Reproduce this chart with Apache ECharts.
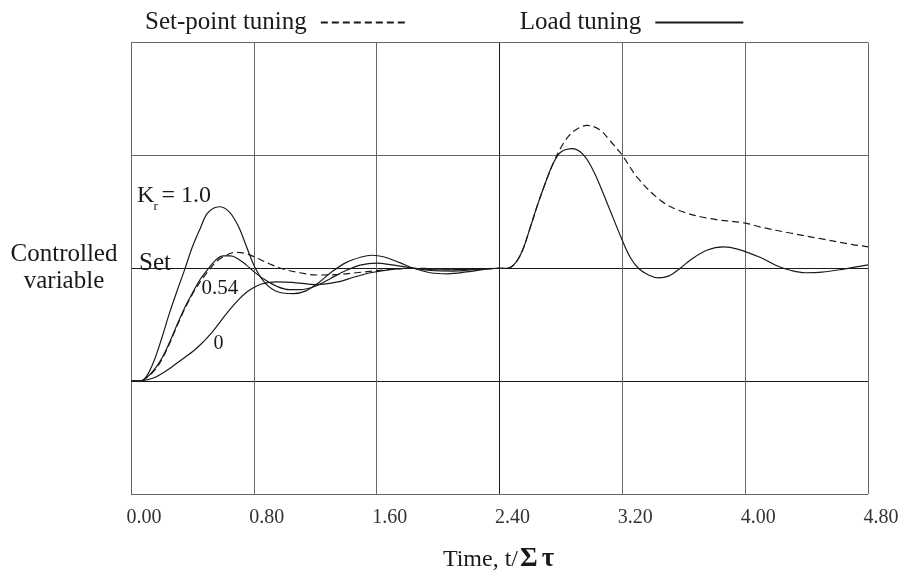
<!DOCTYPE html>
<html>
<head>
<meta charset="utf-8">
<script src="https://cdn.jsdelivr.net/npm/echarts@6/dist/echarts.min.js"></script>
<style>
html,body{margin:0;padding:0;background:#fff;}
#chart{width:899px;height:573px;}
</style>
</head>
<body>
<div id="chart"></div>
<script>
// ---- data ----
const xTicks = [0, 0.8, 1.6, 2.4, 3.2, 4.0, 4.8];
const xTickLabels = ['0.00', '0.80', '1.60', '2.40', '3.20', '4.00', '4.80'];

// Set-point tuning (dashed)
const tSet = [0, 0.06, 0.1, 0.15, 0.2, 0.25, 0.3, 0.35, 0.4, 0.45, 0.5, 0.55, 0.6, 0.68, 0.75, 0.82, 0.9, 1.0, 1.1, 1.21, 1.35, 1.5, 1.65, 1.84, 2.0, 2.2, 2.4,
  2.45, 2.5, 2.55, 2.6, 2.65, 2.7, 2.75, 2.8, 2.85, 2.9, 2.97, 3.05, 3.12, 3.2, 3.3, 3.45, 3.58, 3.77, 4.0, 4.1, 4.3, 4.5, 4.7, 4.8];
const vSet = [0, 0, 0.03, 0.09, 0.19, 0.33, 0.49, 0.64, 0.77, 0.88, 0.97, 1.05, 1.1, 1.14, 1.13, 1.09, 1.04, 0.99, 0.96, 0.94, 0.945, 0.965, 0.985, 1.0, 0.995, 0.99, 1.0,
  1.0, 1.04, 1.16, 1.36, 1.57, 1.76, 1.93, 2.07, 2.17, 2.23, 2.265, 2.23, 2.13, 2.0, 1.8, 1.6, 1.507, 1.44, 1.4, 1.365, 1.31, 1.26, 1.21, 1.19];

// Load tuning, Kr = 1.0 (solid)
const tKr1 = [0, 0.06, 0.1, 0.15, 0.2, 0.25, 0.3, 0.35, 0.4, 0.45, 0.5, 0.575, 0.64, 0.7, 0.75, 0.81, 0.88, 0.96, 1.057, 1.14, 1.22, 1.3, 1.4, 1.5, 1.57, 1.65, 1.75, 1.84, 1.95, 2.06, 2.2, 2.3, 2.4];
const vKr1 = [0, 0, 0.04, 0.18, 0.38, 0.6, 0.8, 0.99, 1.19, 1.35, 1.49, 1.545, 1.5, 1.37, 1.2, 1.0, 0.86, 0.79, 0.776, 0.8, 0.87, 0.96, 1.05, 1.1, 1.115, 1.1, 1.05, 1.0, 0.96, 0.95, 0.97, 0.99, 1.0];

// Load tuning, Kr = 0.54 (solid)
const tKr054 = [0, 0.06, 0.1, 0.15, 0.2, 0.25, 0.3, 0.35, 0.4, 0.45, 0.5, 0.55, 0.6, 0.65, 0.7, 0.75, 0.8, 0.87, 0.95, 1.03, 1.1, 1.2, 1.3, 1.4, 1.5, 1.6, 1.7, 1.84, 1.95, 2.1, 2.25, 2.4];
const vKr054 = [0, 0, 0.03, 0.1, 0.2, 0.34, 0.5, 0.65, 0.78, 0.9, 0.99, 1.07, 1.11, 1.11, 1.08, 1.03, 0.97, 0.9, 0.84, 0.81, 0.81, 0.84, 0.91, 0.98, 1.03, 1.045, 1.03, 1.0, 0.98, 0.975, 0.99, 1.0];

// Load tuning, Kr = 0 (solid)
const tKr0 = [0, 0.06, 0.1, 0.15, 0.2, 0.25, 0.3, 0.35, 0.4, 0.45, 0.5, 0.55, 0.6, 0.65, 0.7, 0.75, 0.8, 0.85, 0.9, 0.95, 1.05, 1.21, 1.35, 1.45, 1.56, 1.7, 1.84, 2.0, 2.2, 2.4];
const vKr0 = [0, 0, 0.01, 0.03, 0.065, 0.11, 0.16, 0.21, 0.26, 0.32, 0.39, 0.47, 0.56, 0.645, 0.72, 0.785, 0.83, 0.86, 0.875, 0.88, 0.875, 0.855, 0.88, 0.92, 0.96, 0.99, 1.0, 0.985, 0.99, 1.0];

// Load tuning, response to load change (solid, all Kr)
const tLoad = [2.4, 2.45, 2.5, 2.55, 2.6, 2.65, 2.7, 2.75, 2.8, 2.877, 2.95, 3.02, 3.1, 3.196, 3.25, 3.305, 3.37, 3.436, 3.5, 3.577, 3.65, 3.75, 3.859, 3.95, 4.1, 4.21, 4.3, 4.39, 4.5, 4.65, 4.8];
const vLoad = [1.0, 1.0, 1.04, 1.16, 1.36, 1.57, 1.76, 1.93, 2.03, 2.06, 2.0, 1.84, 1.58, 1.26, 1.1, 1.0, 0.94, 0.915, 0.93, 1.0, 1.08, 1.16, 1.19, 1.17, 1.095, 1.02, 0.98, 0.96, 0.965, 0.995, 1.03];

const pair = (t, v) => t.map((x, i) => [x, v[i]]);
const FONT = 'Liberation Serif';
const INK = '#1a1a1a';

const chart = echarts.init(document.getElementById('chart'));

function solid(name, t, v) {
  return {
    name: name, type: 'line', data: pair(t, v), symbol: 'none', showSymbol: false,
    smooth: 0.35, silent: true, color: INK,
    lineStyle: { color: INK, width: 1.2, type: 'solid' }
  };
}

const option = {
  animation: false,
  backgroundColor: '#fff',
  color: [INK],
  grid: { left: 131, right: 31, top: 42.5, bottom: 79, containLabel: false, outerBoundsMode: 'none' },
  legend: {
    data: ['Set-point tuning', 'Load tuning'],
    left: 140, top: 5,
    align: 'right',
    itemWidth: 88, itemHeight: 14, itemGap: 110,
    selectedMode: false,
    itemStyle: { opacity: 0 },
    textStyle: { fontFamily: FONT, fontSize: 25, color: INK, padding: [0, 9, 6, 0] }
  },
  xAxis: {
    type: 'value', min: 0, max: 4.8, interval: 0.8,
    axisLine: { show: false }, axisTick: { show: false },
    axisLabel: {
      fontFamily: FONT, fontSize: 20, color: '#333', margin: 14, padding: [0, 0, 0, 26],
      formatter: v => { const i = xTicks.findIndex(x => Math.abs(x - v) < 1e-6); return i >= 0 ? xTickLabels[i] : ''; }
    },
    splitLine: { show: true, showMinLine: true, showMaxLine: true,
      lineStyle: { width: 1, color: ['#666', '#666', '#666', '#1a1a1a', '#666', '#666', '#666'] } },
    name: '{n|Time, t/}{b|Σ}{b|τ}',
    nameLocation: 'middle', nameGap: 52,
    nameTextStyle: {
      rich: {
        n: { fontFamily: FONT, fontSize: 24, color: INK },
        b: { fontFamily: FONT, fontSize: 27, fontWeight: 'bold', color: INK, padding: [0, 2, 0, 2] }
      }
    }
  },
  yAxis: {
    type: 'value', min: -1, max: 3, interval: 1,
    axisLine: { show: false }, axisTick: { show: false }, axisLabel: { show: false },
    splitLine: { show: true, showMinLine: true, showMaxLine: true,
      lineStyle: { width: 1, color: ['#666', '#1a1a1a', '#1a1a1a', '#666', '#666'] } },
    name: 'Controlled\nvariable', nameLocation: 'middle', nameRotate: 0, nameGap: 67,
    nameTextStyle: { fontFamily: FONT, fontSize: 25, lineHeight: 27, color: INK, align: 'center', verticalAlign: 'middle' }
  },
  series: [
    {
      name: 'Set-point tuning', type: 'line', data: pair(tSet, vSet), symbol: 'none', showSymbol: false,
      smooth: 0.35, silent: true, color: INK,
      lineStyle: { color: INK, width: 1.2, type: [7, 4] }
    },
    solid('Load tuning', tKr1, vKr1),
    solid('Load tuning', tKr054, vKr054),
    solid('Load tuning', tKr0, vKr0),
    solid('Load tuning', tLoad, vLoad)
  ],
  graphic: [
    { type: 'text', left: 137, top: 184, silent: true, style: { text: 'K', font: '24px "' + FONT + '"', fill: INK } },
    { type: 'text', left: 153.5, top: 200, silent: true, style: { text: 'r', font: '13px "' + FONT + '"', fill: INK } },
    { type: 'text', left: 161.5, top: 184, silent: true, style: { text: '= 1.0', font: '24px "' + FONT + '"', fill: INK } },
    { type: 'text', left: 139, top: 251, silent: true, style: { text: 'Set', font: '25px "' + FONT + '"', fill: INK } },
    { type: 'text', left: 201.5, top: 278, silent: true, style: { text: '0.54', font: '21px "' + FONT + '"', fill: INK } },
    { type: 'text', left: 213.5, top: 334, silent: true, style: { text: '0', font: '20px "' + FONT + '"', fill: INK } }
  ]
};
chart.setOption(option);
</script>
</body>
</html>
